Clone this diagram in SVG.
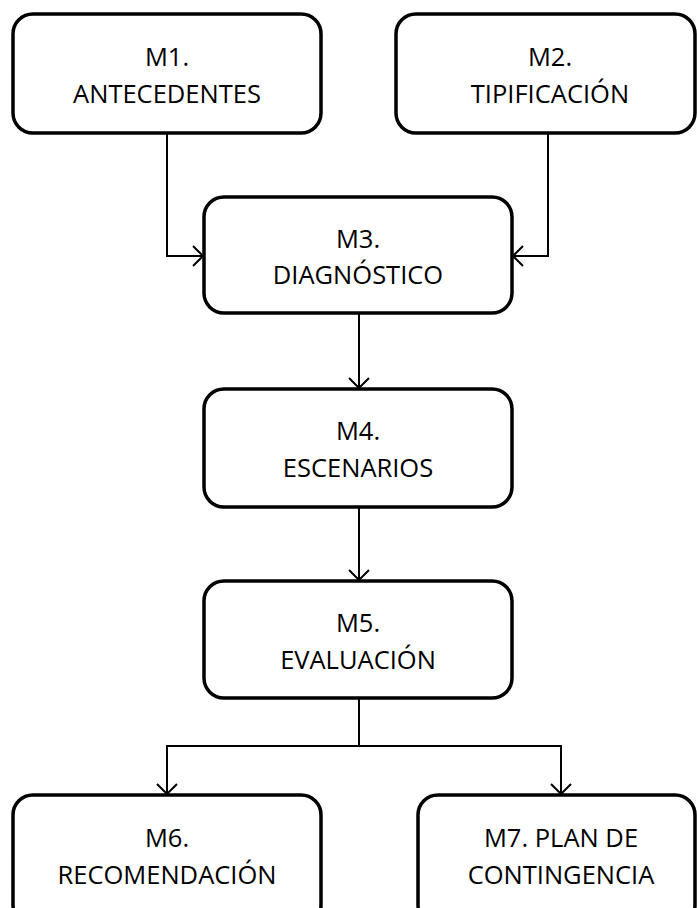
<svg xmlns="http://www.w3.org/2000/svg" width="697" height="908" viewBox="0 0 697 908">
<style>
.box{fill:#fff;stroke:#000;stroke-width:3.5}
.conn{fill:none;stroke:#000;stroke-width:2}
text{font-family:"Open Sans","Liberation Sans",sans-serif;font-size:25.5px;fill:#000;text-anchor:middle}
</style>
<defs>
<marker id="arr" viewBox="0 0 12 22" refX="11" refY="11" markerWidth="12" markerHeight="22" markerUnits="userSpaceOnUse" orient="auto">
<path d="M1,1 L11,11 L1,21" fill="none" stroke="#000" stroke-width="2"/>
</marker>
</defs>
<g id="connectors">
<path class="conn" d="M167,133 V256 H203" marker-end="url(#arr)"/>
<path class="conn" d="M548,133 V256 H513" marker-end="url(#arr)"/>
<path class="conn" d="M359,313 V388" marker-end="url(#arr)"/>
<path class="conn" d="M359,507 V580" marker-end="url(#arr)"/>
<path class="conn" d="M359,698 V746 H167 V794" marker-end="url(#arr)"/>
<path class="conn" d="M359,746 H561 V794" marker-end="url(#arr)"/>
</g>
<g id="m1"><rect class="box" x="13" y="14" width="308" height="119" rx="20"/><text x="167" y="66">M1.</text><text x="167" y="103">ANTECEDENTES</text></g>
<g id="m2"><rect class="box" x="396" y="14" width="299" height="119" rx="20"/><text x="550" y="66">M2.</text><text x="550" y="103">TIPIFICACIÓN</text></g>
<g id="m3"><rect class="box" x="204" y="197" width="308" height="116" rx="20"/><text x="358" y="248">M3.</text><text x="358" y="284">DIAGNÓSTICO</text></g>
<g id="m4"><rect class="box" x="204" y="389" width="308" height="118" rx="20"/><text x="358" y="440">M4.</text><text x="358" y="477">ESCENARIOS</text></g>
<g id="m5"><rect class="box" x="204" y="581" width="308" height="117" rx="20"/><text x="358" y="632">M5.</text><text x="358" y="669">EVALUACIÓN</text></g>
<g id="m6"><rect class="box" x="13" y="795" width="308" height="130" rx="20"/><text x="167" y="847">M6.</text><text x="167" y="884">RECOMENDACIÓN</text></g>
<g id="m7"><rect class="box" x="418" y="795" width="277" height="130" rx="20"/><text x="561" y="847">M7. PLAN DE</text><text x="561" y="884">CONTINGENCIA</text></g>
</svg>
